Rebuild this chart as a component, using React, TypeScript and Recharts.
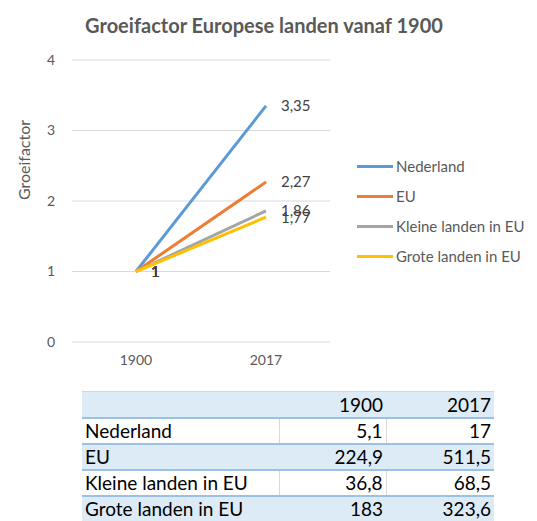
import { LineChart, Line, XAxis, YAxis, CartesianGrid, Legend, LabelList } from "recharts";

const years = ["1900", "2017"];
const seriesNames = ["Nederland", "EU", "Kleine landen in EU", "Grote landen in EU"];
const growth1900 = [1, 1, 1, 1];
const growth2017 = [3.35, 2.27, 1.86, 1.77];
const pop1900 = ["5,1", "224,9", "36,8", "183"];
const pop2017 = ["17", "511,5", "68,5", "323,6"];
const yTicks = [0, 1, 2, 3, 4];
const colors = ["#5B9BD5", "#ED7D31", "#A5A5A5", "#FFC000"];

const font = "Lato, 'Open Sans', sans-serif";

const data = years.map((yr, i) => {
  const row: Record<string, string | number> = { yr };
  seriesNames.forEach((name, s) => {
    row[`s${s}`] = i === 0 ? growth1900[s] : growth2017[s];
  });
  return row;
});

const fmt = (v: unknown) => String(v).replace(".", ",");

function LegendBox() {
  return (
    <div style={{ fontFamily: font, fontSize: 15, color: "#595959" }}>
      {seriesNames.map((name, i) => (
        <div key={name} style={{ display: "flex", alignItems: "center", height: 30 }}>
          <span style={{ display: "inline-block", width: 36, height: 3, background: colors[i], marginRight: 3 }} />
          {name}
        </div>
      ))}
    </div>
  );
}

export default function App() {
  const cell = { padding: "0 3px", height: 26, boxSizing: "border-box" as const };
  return (
    <div style={{ position: "absolute", left: 0, top: 0, width: 537, height: 521, overflow: "hidden", background: "#fff", fontFamily: font }}>
      <div style={{ position: "absolute", left: 0, top: 12, width: 528, textAlign: "center", fontSize: 20, fontWeight: 700, color: "#595959", lineHeight: "26px" }}>
        Groeifactor Europese landen vanaf 1900
      </div>
      <LineChart width={537} height={380} data={data} margin={{ top: 60, right: 207, bottom: 8, left: 22 }}>
        <CartesianGrid vertical={false} stroke="#D9D9D9" />
        <XAxis dataKey="yr" axisLine={false} tickLine={false} tickMargin={7} height={30}
          padding={{ left: 64, right: 64 }}
          tick={{ fontSize: 14, fill: "#595959", fontFamily: font }} />
        <YAxis domain={[0, 4]} ticks={yTicks} axisLine={false} tickLine={false} width={50} tickMargin={11}
          tick={{ fontSize: 14, fill: "#595959", fontFamily: font }}
          label={() => (
            <text x={23} y={160} transform="rotate(-90 23 160)" textAnchor="middle" dominantBaseline="central"
              fontSize={16} fill="#595959" fontFamily={font}>Groeifactor</text>
          )} />
        <Legend layout="vertical" align="center" verticalAlign="middle"
          wrapperStyle={{ left: 357, top: 151, width: 180 }} content={() => <LegendBox />} />
        {seriesNames.map((name, i) => (
          <Line key={name} dataKey={`s${i}`} name={name} stroke={colors[i]} strokeWidth={3}
            dot={false} isAnimationActive={false}>
            <LabelList dataKey={`s${i}`} position="right" offset={15} formatter={fmt}
              style={{ fontSize: 15, fill: "#404040", fontFamily: font }} />
          </Line>
        ))}
      </LineChart>
      <table style={{ position: "absolute", left: 82, top: 391, borderCollapse: "collapse", tableLayout: "fixed",
        fontFamily: font, fontSize: 19, color: "#000", width: 412 }}>
        <colgroup>
          <col style={{ width: 197 }} />
          <col style={{ width: 107 }} />
          <col style={{ width: 108 }} />
        </colgroup>
        <tbody>
          <tr style={{ background: "#DDEBF7", borderTop: "1px solid #D0D7DE", borderBottom: "2px solid #9BC2E6" }}>
            <td style={cell}></td>
            {years.map((y) => (
              <td key={y} style={{ ...cell, textAlign: "right" }}>{y}</td>
            ))}
          </tr>
          {seriesNames.map((name, i) => {
            const blue = i % 2 === 1;
            const vb = blue ? "none" : "1px solid #D9D9D9";
            return (
              <tr key={name} style={{ background: blue ? "#DDEBF7" : "#fff", borderBottom: "2px solid #9BC2E6" }}>
                <td style={{ ...cell, borderRight: vb }}>{name}</td>
                <td style={{ ...cell, textAlign: "right", borderRight: vb }}>{pop1900[i]}</td>
                <td style={{ ...cell, textAlign: "right" }}>{pop2017[i]}</td>
              </tr>
            );
          })}
        </tbody>
      </table>
    </div>
  );
}
